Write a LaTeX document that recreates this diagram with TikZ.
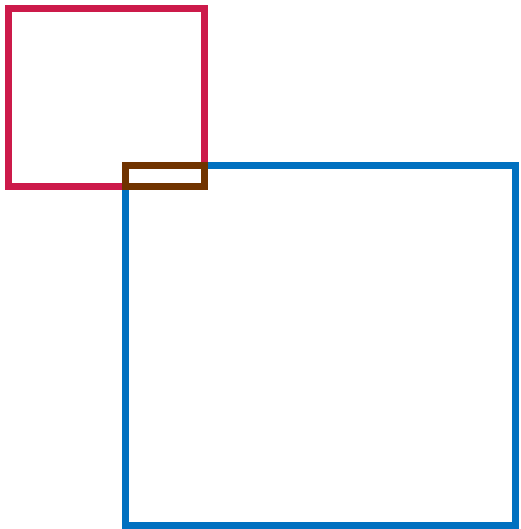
\documentclass[tikz,border=0pt]{standalone}
\definecolor{sqred}{RGB}{204,26,74}
\definecolor{sqblue}{RGB}{0,112,192}
\definecolor{sqbrown}{RGB}{112,51,0}
\begin{document}
\begin{tikzpicture}[x=1pt,y=-1pt,
  frame/.style={line width=7pt}]
\useasboundingbox (0,0) rectangle (520,529);
\draw[frame,sqred] (8.5,8.5) rectangle (204,187);
\draw[frame,sqblue] (125.7,166) rectangle (515.7,525.5);
\draw[frame,sqbrown] (125.7,166) rectangle (204,187);
\end{tikzpicture}
\end{document}
